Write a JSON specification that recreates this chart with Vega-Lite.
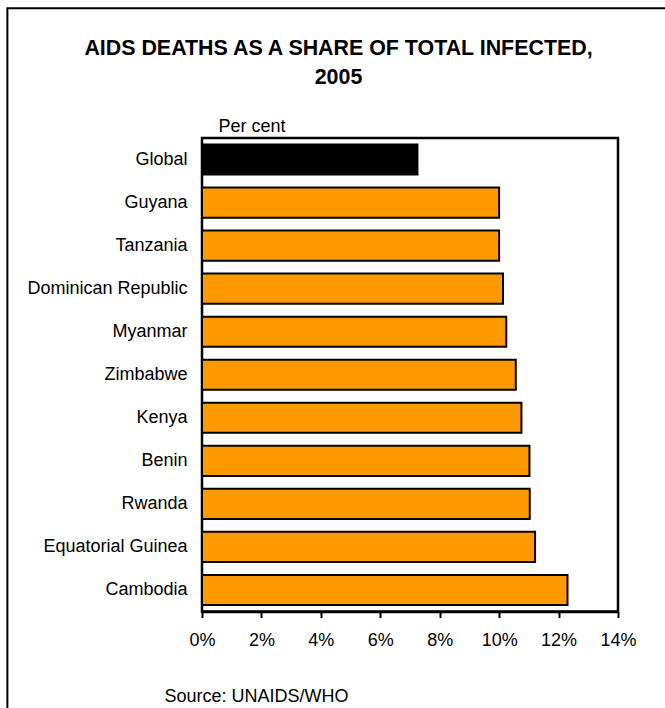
{
  "$schema": "https://vega.github.io/schema/vega-lite/v6.json",
  "autosize": {"type": "none"},
  "padding": {"left": 202, "top": 138, "right": 47, "bottom": 96.5},
  "width": 416,
  "height": 473.5,
  "background": "white",
  "title": {
    "text": ["AIDS DEATHS AS A SHARE OF TOTAL INFECTED,", "2005"],
    "anchor": "middle",
    "frame": "group",
    "dx": -71.5,
    "offset": -81,
    "font": "Liberation Sans",
    "fontSize": 21.4,
    "fontWeight": "bold",
    "lineHeight": 28.5,
    "color": "black"
  },
  "datasets": {
    "deaths": [
      {"country": "Global", "group": "Global", "share": 7.25},
      {"country": "Guyana", "group": "Country", "share": 10.0},
      {"country": "Tanzania", "group": "Country", "share": 10.0},
      {"country": "Dominican Republic", "group": "Country", "share": 10.13},
      {"country": "Myanmar", "group": "Country", "share": 10.24},
      {"country": "Zimbabwe", "group": "Country", "share": 10.56},
      {"country": "Kenya", "group": "Country", "share": 10.75},
      {"country": "Benin", "group": "Country", "share": 11.02},
      {"country": "Rwanda", "group": "Country", "share": 11.03},
      {"country": "Equatorial Guinea", "group": "Country", "share": 11.21},
      {"country": "Cambodia", "group": "Country", "share": 12.3}
    ],
    "border": [{"left": -6.55, "right": 16.1, "top": 1.274, "bottom": -0.25}]
  },
  "layer": [
    {
      "data": {"name": "border"},
      "mark": {"type": "rect", "fill": null, "stroke": "black", "strokeWidth": 2, "clip": false},
      "encoding": {
        "x": {"field": "left", "type": "quantitative"},
        "x2": {"field": "right"},
        "y": {"field": "top", "type": "quantitative", "axis": null,
              "scale": {"domain": [0, 1], "nice": false, "zero": false}},
        "y2": {"field": "bottom"}
      }
    },
    {
      "data": {"name": "deaths"},
      "mark": {"type": "bar", "stroke": "black", "strokeWidth": 2},
      "encoding": {
        "y": {
          "field": "country",
          "type": "nominal",
          "sort": null,
          "scale": {"paddingInner": 0.3, "paddingOuter": 0.15},
          "axis": {
            "title": "Per cent",
            "titleAngle": 0,
            "titleAlign": "left",
            "titleBaseline": "alphabetic",
            "titleX": 16,
            "titleY": -6.5,
            "titleFont": "Liberation Sans",
            "titleFontSize": 18,
            "titleFontWeight": "normal",
            "titleColor": "black",
            "ticks": false,
            "tickSize": 0,
            "domain": false,
            "labelPadding": 15,
            "labelFont": "Liberation Sans",
            "labelFontSize": 18,
            "labelColor": "black"
          }
        },
        "x": {
          "field": "share",
          "type": "quantitative",
          "scale": {"domain": [0, 14], "nice": false, "zero": true},
          "axis": {
            "title": "Source: UNAIDS/WHO",
            "titleAlign": "left",
            "titleBaseline": "alphabetic",
            "titleX": -38,
            "titleY": 90,
            "titleFont": "Liberation Sans",
            "titleFontSize": 18,
            "titleFontWeight": "normal",
            "titleColor": "black",
            "values": [0, 2, 4, 6, 8, 10, 12, 14],
            "labelExpr": "datum.value + '%'",
            "labelFlush": false,
            "labelOverlap": false,
            "grid": false,
            "domainColor": "black",
            "domainWidth": 2.5,
            "tickColor": "black",
            "tickWidth": 2,
            "tickSize": 6,
            "labelPadding": 14,
            "labelFont": "Liberation Sans",
            "labelFontSize": 18,
            "labelColor": "black"
          }
        },
        "color": {
          "field": "group",
          "type": "nominal",
          "scale": {"domain": ["Global", "Country"], "range": ["#000000", "#FF9900"]},
          "legend": null
        }
      }
    }
  ],
  "resolve": {"scale": {"y": "independent"}},
  "config": {
    "view": {"stroke": "black", "strokeWidth": 2.5}
  }
}
